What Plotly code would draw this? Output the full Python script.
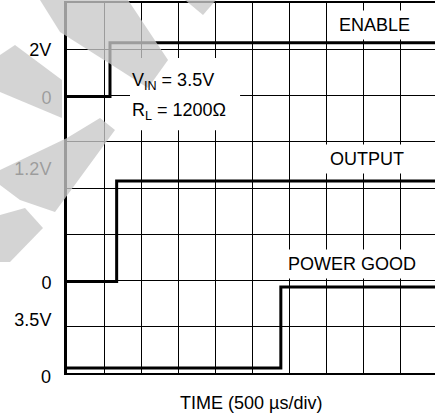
import plotly.graph_objects as go

# time in screen divisions (500 us/div), levels in screen divisions (8 rows)
enable_t = [0, 1.16, 10]
enable_lvl = [5.98, 7.14, 7.14]
output_t = [0, 1.34, 10]
output_lvl = [1.98, 4.15, 4.15]
pgood_t = [0, 5.77, 10]
pgood_lvl = [0.11, 1.86, 1.86]

# left-hand level labels
label_pos = [6.98, 5.95, 4.41, 1.95, 1.15]
label_text = ["2V", "0", "1.2V", "0", "3.5V"]

FONT = "Arial, Liberation Sans, sans-serif"
W, H = 435, 418
L, T, B = 67, 3, 45
PW, PH = W - L, H - T - B
X_MAX = PW / 37.06

# faint watermark outline (pixel polygons)
watermark = [
    [(40, 0), (128, 0), (168, 60), (148, 88), (60, 32)],
    [(185, 0), (216, 0), (203, 15)],
    [(0, 55), (15, 45), (62, 80), (62, 118), (0, 92)],
    [(0, 170), (67, 138), (100, 118), (115, 130), (55, 212), (20, 200), (0, 185)],
    [(0, 215), (25, 208), (43, 228), (10, 262), (0, 262)],
]


def to_paper(poly):
    pts = [((x - L) / PW, (T + PH - y) / PH) for x, y in poly]
    return "M " + " L ".join(f"{px:.4f},{py:.4f}" for px, py in pts) + " Z"


fig = go.Figure()
for t, lvl in [(enable_t, enable_lvl), (output_t, output_lvl), (pgood_t, pgood_lvl)]:
    fig.add_trace(go.Scatter(
        x=t, y=lvl, mode="lines",
        line=dict(color="black", width=3, shape="hv"),
        showlegend=False, hoverinfo="skip",
    ))
# empty trace so the label axis is drawn
fig.add_trace(go.Scatter(x=[], y=[], yaxis="y2", showlegend=False))

# white box behind the test conditions
fig.add_shape(type="rect", x0=1.70, x1=4.67, y0=5.25, y1=6.81,
              fillcolor="white", line_width=0, layer="between")

for poly in watermark:
    fig.add_shape(type="path", path=to_paper(poly), xref="paper", yref="paper",
                  fillcolor="rgba(200,200,200,0.78)", line_width=0, layer="above")

txt = dict(size=18, color="black", family=FONT)
for text, x, y in [("ENABLE", 8.31, 7.52), ("OUTPUT", 8.09, 4.62), ("POWER GOOD", 7.69, 2.36)]:
    fig.add_annotation(x=x, y=y, text=text, showarrow=False, font=txt,
                       bgcolor="white", borderpad=4)

fig.add_annotation(x=1.71, y=6.30, xanchor="left", showarrow=False, font=txt,
                   text="V<sub>IN</sub> = 3.5V")
fig.add_annotation(x=1.71, y=5.65, xanchor="left", showarrow=False, font=txt,
                   text="R<sub>L</sub> = 1200Ω")
fig.add_annotation(x=0, xref="paper", xanchor="right", xshift=-14, y=0, yshift=-4,
                   text="0", showarrow=False, font=txt)
fig.add_annotation(x=0.5, xref="paper", y=0, yref="paper", yanchor="top", yshift=-18,
                   text="TIME (500 µs/div)", showarrow=False, font=txt)

fig.update_layout(
    width=W, height=H,
    margin=dict(l=L, r=0, t=T, b=B, pad=0, autoexpand=False),
    paper_bgcolor="white", plot_bgcolor="white",
    font=dict(family=FONT, size=18, color="black"),
    xaxis=dict(range=[0, X_MAX], dtick=1, tick0=0, showgrid=True, gridcolor="black",
               gridwidth=1, zeroline=False, showticklabels=False, ticks="",
               showline=True, mirror=True, linecolor="black", linewidth=2,
               automargin=False),
    yaxis=dict(range=[0, 8], dtick=1, tick0=0, showgrid=True, gridcolor="black",
               gridwidth=1, zeroline=False, showticklabels=False, ticks="",
               showline=True, linecolor="black", linewidth=3, automargin=False),
    yaxis2=dict(overlaying="y", side="left", range=[0, 8], tickvals=label_pos,
                ticktext=label_text, showgrid=False, zeroline=False, showline=False,
                ticks="outside", ticklen=11, tickcolor="rgba(0,0,0,0)",
                tickfont=txt, automargin=False),
)

# the page's default 8px body margin would push the chart off the window
fig.write_html("out.html", config={"displayModeBar": False},
               post_script="document.body.style.margin = '0';")
